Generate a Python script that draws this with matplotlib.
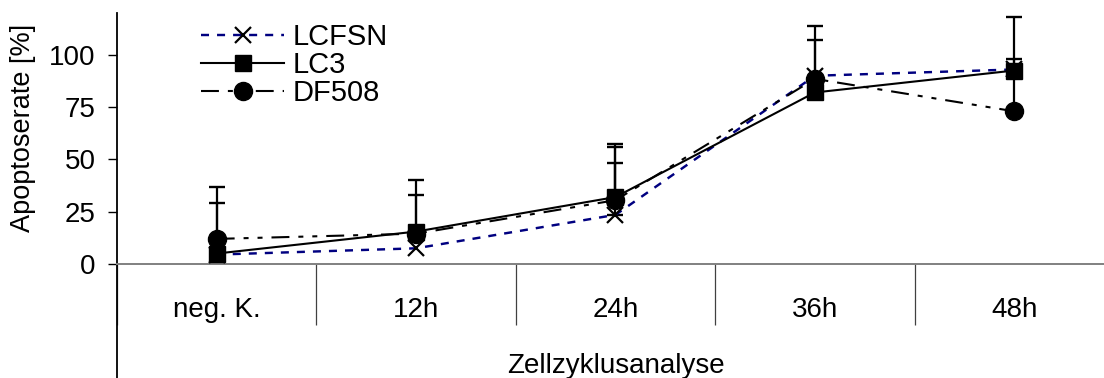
import numpy as np
import matplotlib.pyplot as plt

plt.rcParams['font.family'] = ['Liberation Sans', 'DejaVu Sans']

categories = ["neg. K.", "12h", "24h", "36h", "48h"]

lcfsn = [4.5, 7.5, 23.5, 90.0, 93.0]
lc3 = [5.0, 15.5, 32.0, 82.0, 92.5]
df508 = [12.0, 14.5, 30.5, 88.5, 73.0]

# upper error bars (SD), None where no bar is drawn
lcfsn_sd = [None, None, 25.0, None, None]
lc3_sd = [24.4, 24.5, 25.5, 25.0, 25.5]
df508_sd = [24.6, 18.5, 25.5, 25.5, 25.0]

fig = plt.figure(figsize=(11.04, 3.78), dpi=100)
ax = fig.add_axes([0.106, 0.3016, 0.903, 0.664])

x = np.arange(len(categories)) + 0.5


def draw_errors(vals, sd):
    idx = [i for i, s in enumerate(sd) if s is not None]
    if not idx:
        return
    ax.errorbar(x[idx], [vals[i] for i in idx],
                yerr=[[0] * len(idx), [sd[i] for i in idx]],
                fmt='none', ecolor='black', elinewidth=1.6,
                capsize=6, capthick=1.7, zorder=2)


draw_errors(lcfsn, lcfsn_sd)
draw_errors(lc3, lc3_sd)
draw_errors(df508, df508_sd)

ax.plot(x, lcfsn, color='#000080', lw=1.75, dashes=(3.3, 3.3),
        marker='x', ms=11, mec='black', mew=1.6, label='LCFSN', zorder=3)
ax.plot(x, lc3, color='black', lw=1.5, linestyle='-',
        marker='s', ms=11, mfc='black', mec='black', label='LC3', zorder=4)
ax.plot(x, df508, color='black', lw=1.5, dashes=(8.6, 4.3, 2.4, 4.3, 2.4, 4.3),
        marker='o', ms=13, mfc='black', mec='black', label='DF508', zorder=4)

ax.set_xlim(0, 5)
ax.set_ylim(0, 120)
ax.set_yticks([0, 25, 50, 75, 100])
ax.tick_params(axis='y', direction='out', length=6.5, width=1,
               labelsize=20, pad=9)

# category separators as major ticks, names on minor ticks
ax.set_xticks(np.arange(0, 6))
ax.set_xticklabels([])
ax.set_xticks(x, minor=True)
ax.set_xticklabels(categories, minor=True)
ax.tick_params(axis='x', which='major', direction='out', length=44,
               width=0.9, color='#404040')
ax.tick_params(axis='x', which='minor', length=0, pad=24, labelsize=20)

for side in ('top', 'right'):
    ax.spines[side].set_visible(False)
ax.spines['bottom'].set_color('#808080')
ax.spines['bottom'].set_linewidth(1.4)
ax.spines['left'].set_linewidth(1.3)
ax.plot([0, 0], [0, -0.46], transform=ax.transAxes, color='black',
        lw=1.3, clip_on=False)

ax.set_ylabel('Apoptoserate [%]', fontsize=19.5)
ax.yaxis.set_label_coords(-0.081, 0.544)
ax.set_xlabel('Zellzyklusanalyse', fontsize=20)
ax.xaxis.set_label_coords(0.5, -0.355)

ax.legend(loc='upper left', bbox_to_anchor=(201 / 1104, 1 - 23 / 378),
          bbox_transform=fig.transFigure, frameon=False, fontsize=21,
          handlelength=2.85, handletextpad=0.28, labelspacing=0.0,
          borderpad=0, borderaxespad=0)

fig.savefig('out.png', dpi=100)
